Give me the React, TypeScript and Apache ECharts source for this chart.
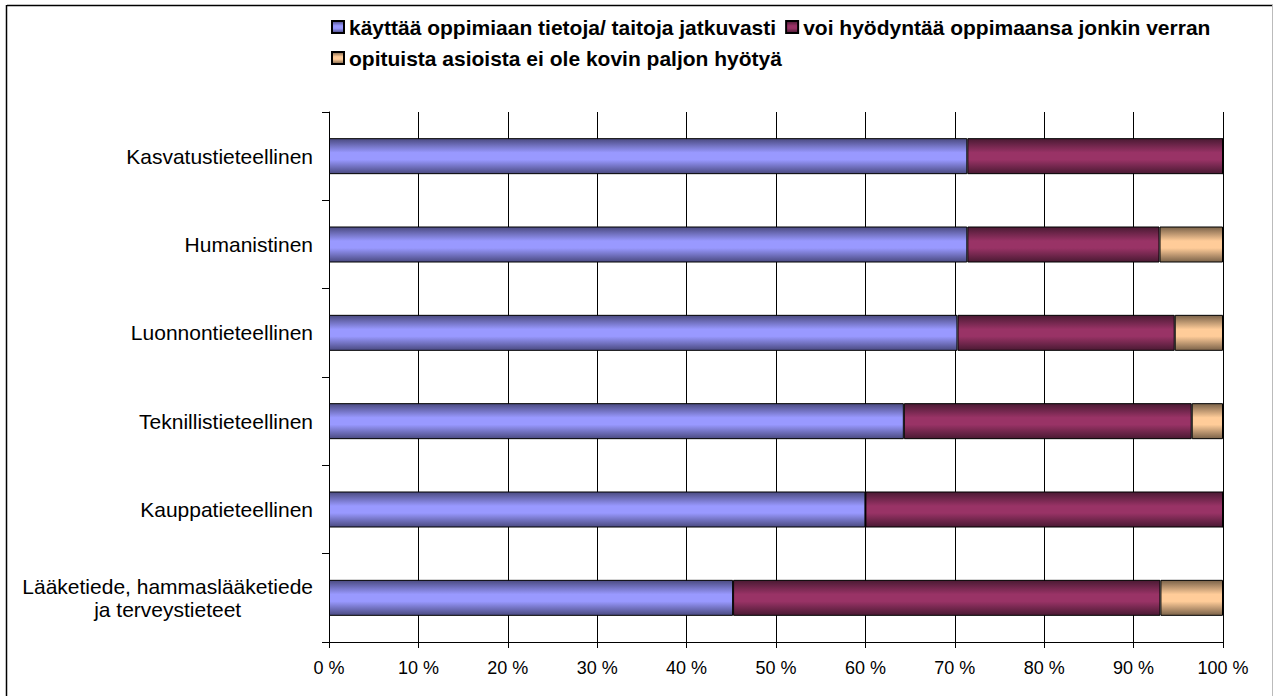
import React, { useEffect, useRef } from "react";
import * as echarts from "echarts";

const categories = [
  "Kasvatustieteellinen",
  "Humanistinen",
  "Luonnontieteellinen",
  "Teknillistieteellinen",
  "Kauppatieteellinen",
  "Lääketiede, hammaslääketiede\nja terveystieteet",
];
const seriesNames = [
  "käyttää oppimiaan tietoja/ taitoja jatkuvasti",
  "voi hyödyntää oppimaansa jonkin verran",
  "opituista asioista ei ole kovin paljon hyötyä",
];
const continuous = [71.4, 71.4, 70.3, 64.3, 60.0, 45.2];
const somewhat = [28.6, 21.5, 24.3, 32.2, 40.0, 47.8];
const notMuch = [0, 7.1, 5.4, 3.5, 0, 7.0];
const xTicks = [0, 10, 20, 30, 40, 50, 60, 70, 80, 90, 100];

const FONT = "'Liberation Sans', Arial, sans-serif";

function grad(edge: string, mid: string) {
  return new echarts.graphic.LinearGradient(0, 0, 0, 1, [
    { offset: 0, color: edge },
    { offset: 0.4, color: mid },
    { offset: 0.6, color: mid },
    { offset: 1, color: edge },
  ]);
}

export default function App() {
  const ref = useRef<HTMLDivElement>(null);
  useEffect(() => {
    if (!ref.current) return;
    const chart = echarts.init(ref.current, undefined, { renderer: "svg" });
    const colors = [
      grad("#4a4a80", "#9999ff"),
      grad("#4a1a33", "#993366"),
      grad("#7a6249", "#ffcc99"),
    ];
    const data = [continuous, somewhat, notMuch];
    chart.setOption({
      animation: false,
      backgroundColor: "#ffffff",
      textStyle: { fontFamily: FONT },
      legend: {
        left: 331,
        top: 16,
        width: 900,
        padding: 0,
        itemWidth: 12,
        itemHeight: 12,
        itemGap: 9,
        icon: "rect",
        textStyle: {
          fontFamily: FONT,
          fontSize: 21,
          lineHeight: 22,
          fontWeight: "bold",
          color: "#000",
        },
        data: seriesNames,
      },
      grid: { left: 329, right: 51, top: 112, bottom: 54, containLabel: false },
      xAxis: {
        type: "value",
        min: 0,
        max: 100,
        interval: 10,
        axisLine: { show: true, lineStyle: { color: "#000", width: 1 } },
        axisTick: { show: true, length: 6, lineStyle: { color: "#000" } },
        splitLine: { show: true, lineStyle: { color: "#000", width: 1 } },
        axisLabel: {
          margin: 17,
          fontSize: 18,
          color: "#000",
          fontFamily: FONT,
          formatter: (v: number) => (xTicks.includes(v) ? `${v} %` : ""),
        },
      },
      yAxis: {
        type: "category",
        inverse: true,
        data: categories,
        axisLine: { show: true, lineStyle: { color: "#000", width: 1 } },
        axisTick: { show: true, length: 7, lineStyle: { color: "#000" } },
        splitLine: { show: false },
        axisLabel: {
          margin: 16,
          fontSize: 21,
          color: "#000",
          fontFamily: FONT,
          formatter: (v: string) =>
            v
              .split("\n")
              .map((l) => `{c|${l}}`)
              .join("\n"),
          rich: {
            c: { align: "center", fontSize: 21, lineHeight: 23, color: "#000", fontFamily: FONT },
          },
        },
      },
      series: seriesNames.map((name, i) => ({
        name,
        type: "bar",
        stack: "total",
        barWidth: 36,
        data: data[i],
        itemStyle: { color: colors[i], borderColor: "#000", borderWidth: 1 },
      })),
      graphic: [
        { type: "line", shape: { x1: 7, y1: 5.5, x2: 1273, y2: 5.5 }, style: { stroke: "#000", lineWidth: 1.5 } },
        { type: "line", shape: { x1: 6.5, y1: 5, x2: 6.5, y2: 696 }, style: { stroke: "#000", lineWidth: 1.5 } },
        { type: "line", shape: { x1: 1272.5, y1: 5, x2: 1272.5, y2: 696 }, style: { stroke: "#bbb", lineWidth: 1 } },
      ],
    });
    return () => chart.dispose();
  }, []);
  return (
    <div
      ref={ref}
      style={{ position: "fixed", left: 0, top: 0, width: 1274, height: 696, background: "#fff" }}
    />
  );
}
